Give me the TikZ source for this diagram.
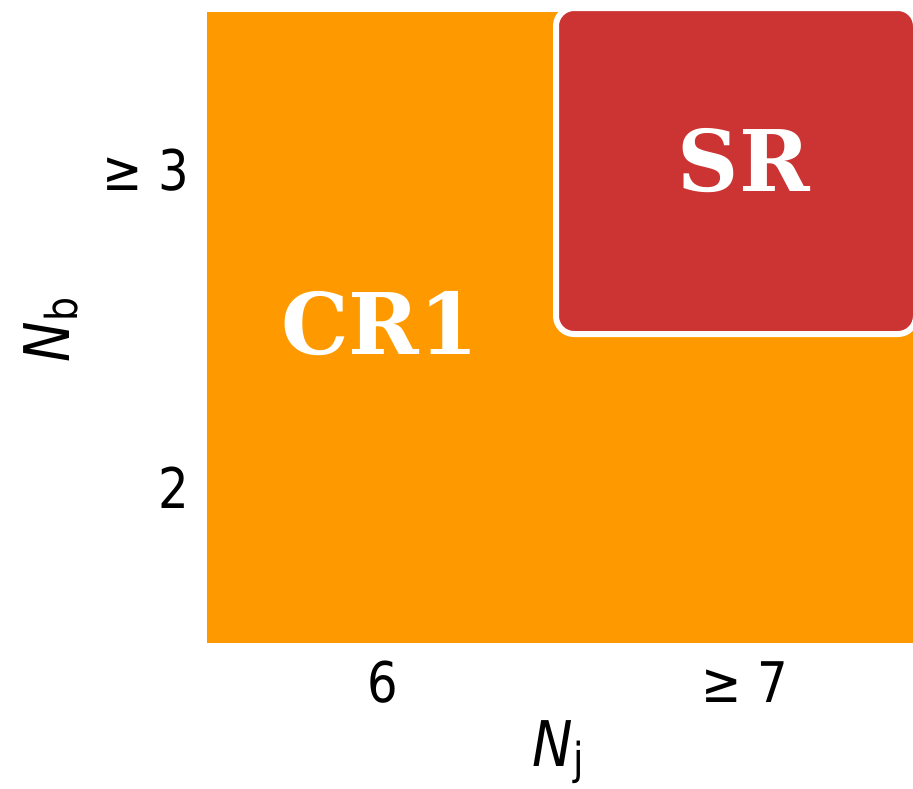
\documentclass[tikz,border=0pt]{standalone}
\usepackage{fontspec}
\setmainfont{DejaVu Sans}
\newfontfamily\dvserif{DejaVu Serif}
\definecolor{regorange}{RGB}{254,154,0}
\definecolor{regred}{RGB}{204,51,51}
\newcommand{\narrowtxt}[1]{\scalebox{0.86}[1]{#1}}
\tikzset{
  ticklbl/.style={inner sep=0pt, font=\fontsize{56}{60}\selectfont, text=black},
  axlbl/.style={inner sep=0pt, font=\fontsize{63}{66}\selectfont, text=black},
  reglbl/.style={inner sep=0pt, font=\dvserif\bfseries\fontsize{85}{90}\selectfont, text=white},
}
\begin{document}
\begin{tikzpicture}[x=1pt,y=-1pt]
\useasboundingbox (0,0) rectangle (913,788);
\fill[white] (0,0) rectangle (913,788);
\begin{scope}
\clip (0,0) rectangle (913,788);
\fill[regorange] (207,12) rectangle (920,643);
\draw[regred, fill=regred, draw=white, line width=6pt, rounded corners=18pt] (556,8) rectangle (916,334);
\end{scope}
\node[reglbl] (sr) at (744,161) {SR};
\node[reglbl] (cr1) at (380,324) {CR1};
\node[ticklbl, anchor=east] (y3) at (189,170) {\narrowtxt{≥ 3}};
\node[ticklbl, anchor=east] (y2) at (189,488) {\narrowtxt{2}};
\node[ticklbl] (x6) at (383,682) {\narrowtxt{6}};
\node[ticklbl] (x7) at (745,682) {\narrowtxt{≥ 7}};
\node[axlbl, anchor=base] (nj) at (558,766) {\narrowtxt{\textit{N}\raisebox{-8pt}{\fontsize{44}{44}\selectfont j}}};
\node[axlbl, anchor=base, rotate=90] (nb) at (69,330) {\narrowtxt{\textit{N}\raisebox{-8pt}{\fontsize{44}{44}\selectfont b}}};
\end{tikzpicture}
\end{document}
